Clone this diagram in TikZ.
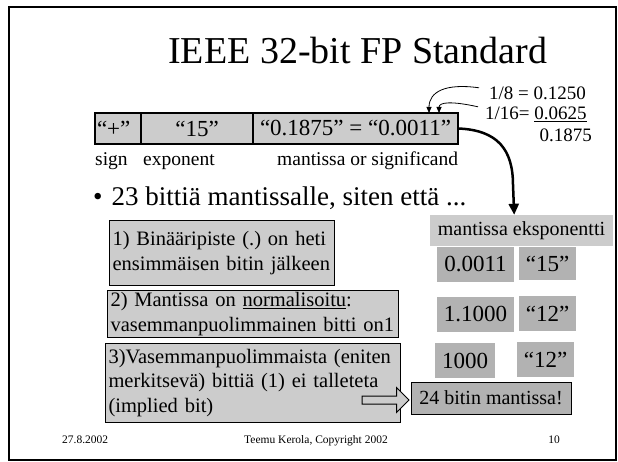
\documentclass[tikz,border=0pt]{standalone}
\usepackage{fontspec}
\setmainfont{Liberation Serif}
\usetikzlibrary{positioning,calc,shapes.arrows,arrows.meta}
\definecolor{boxgray}{gray}{0.8}
\definecolor{cellgray}{gray}{0.7}
\frenchspacing
\begin{document}
\begin{tikzpicture}[x=1pt,y=-1pt,
    regcell/.style={draw, fill=boxgray, line width=1.2pt, outer sep=0pt, minimum height=31pt, inner sep=2pt, font=\fontsize{23}{27}\selectfont},
    note/.style={draw, fill=boxgray, line width=1pt, anchor=north west, align=left, inner xsep=3pt, inner ysep=1pt, font=\fontsize{20.5}{24.5}\selectfont},
    val/.style={fill=cellgray, inner sep=0pt, font=\fontsize{23}{27}\selectfont},
    lbl/.style={anchor=base west, inner sep=0pt, font=\fontsize{19.5}{22}\selectfont},
    frac/.style={anchor=base west, inner sep=0pt, font=\fontsize{19}{22}\selectfont},
    foot/.style={anchor=base, inner sep=0pt, font=\fontsize{11.5}{13}\selectfont}]
    \fill[white] (0,0) rectangle (618,462);
    \useasboundingbox (0,0) rectangle (618,462);
    \draw[line width=2pt] (9,7) rectangle (616,460);
    \node[anchor=base west, inner sep=0pt, font=\fontsize{38}{44}\selectfont] (title) at (168,64) {IEEE 32-bit FP Standard};
    \node[regcell, minimum width=46pt, text width=42pt, align=left, anchor=north west] (sgn) at (95,113) {“+”};
    \node[regcell, minimum width=112pt, right=0pt of sgn] (expo) {“15”};
    \node[regcell, minimum width=205pt, right=0pt of expo] (mant) {“0.1875” = “0.0011”};
    \node[lbl] (sgnlbl) at (95,166) {sign};
    \node[lbl] (expolbl) at (143,166) {exponent};
    \node[lbl] (mantlbl) at (277,166) {mantissa or significand};
    \node[frac] (eighth) at (489,100) {1/8 = 0.1250};
    \node[frac] (sixteenth) at (485,120) {1/16= \underline{0.0625}};
    \node[frac, anchor=base east] (total) at (592,142) {0.1875};
    \coordinate (tipA) at ($(mant.north east)+(-29,0)$);
    \coordinate (tipB) at ($(mant.north east)+(-19,0)$);
    \draw[line width=0.8pt, -{Triangle[length=6pt,width=5pt]}] ($(eighth.west)+(-10,-6)$) .. controls (445,83) and (429,92) .. (tipA);
    \draw[line width=0.8pt, -{Triangle[length=6pt,width=5pt]}] ($(sixteenth.west)+(-7,-8)$) .. controls (452,101) and (439,102) .. (tipB);
    \node[anchor=base west, inner sep=0pt, font=\fontsize{27}{32}\selectfont] (bullet) at (93,206) {\textbullet\hspace{9pt}23 bittiä mantissalle, siten että ...};
    \node[note, text width=219pt, minimum height=65pt] (binpt) at (109,220) {1) Binääripiste (.) on heti\\ensimmäisen bitin jälkeen};
    \node[note, text width=285pt, minimum height=47pt] (norm) at (107,290) {2) Mantissa on \underline{normalisoitu}:\\vasemmanpuolimmainen bitti on1};
    \node[note, text width=289pt, minimum height=79pt] (impl) at (105,343) {3)Vasemmanpuolimmaista (eniten\\merkitsevä) bittiä (1) ei talleteta\\(implied bit)};
    \node[fill=boxgray, inner sep=0pt, minimum width=183pt, minimum height=31pt, font=\fontsize{20}{24}\selectfont] (head) at (521.5,230.5) {mantissa eksponentti};
    \node[val, minimum width=77pt, minimum height=35pt] (m1) at (475.5,264.5) {0.0011};
    \node[val, minimum width=57pt, minimum height=33pt] (e1) at (547.5,263.5) {“15”};
    \node[val, minimum width=77pt, minimum height=35pt] (m2) at (475.5,314.5) {1.1000};
    \node[val, minimum width=57pt, minimum height=35pt] (e2) at (547.5,313.5) {“12”};
    \node[val, minimum width=60pt, minimum height=35pt] (m3) at (465,360.5) {1000};
    \node[val, minimum width=57pt, minimum height=35pt] (e3) at (545.5,359.5) {“12”};
    \node[draw, fill=cellgray, line width=1pt, inner sep=0pt, minimum width=160pt, minimum height=32pt, font=\fontsize{20}{24}\selectfont] (bits) at (491,398) {24 bitin mantissa!};
    \draw[line width=2.5pt, -{Triangle[length=11pt,width=10pt]}] (mant.east) .. controls (498,130) and (513,150) .. (513,185) -- (m1.east |- head.north);
    \node[single arrow, draw, fill=boxgray, line width=1pt, inner sep=3.5pt, minimum height=47pt, single arrow head extend=8.5pt, single arrow head indent=0pt] (hollow) at (383.5,400) {};
    \node[foot, anchor=base west] (date) at (62,443) {27.8.2002};
    \node[foot] (copy) at (316,443) {Teemu Kerola, Copyright 2002};
    \node[foot] (page) at (554,443) {10};
\end{tikzpicture}
\end{document}
